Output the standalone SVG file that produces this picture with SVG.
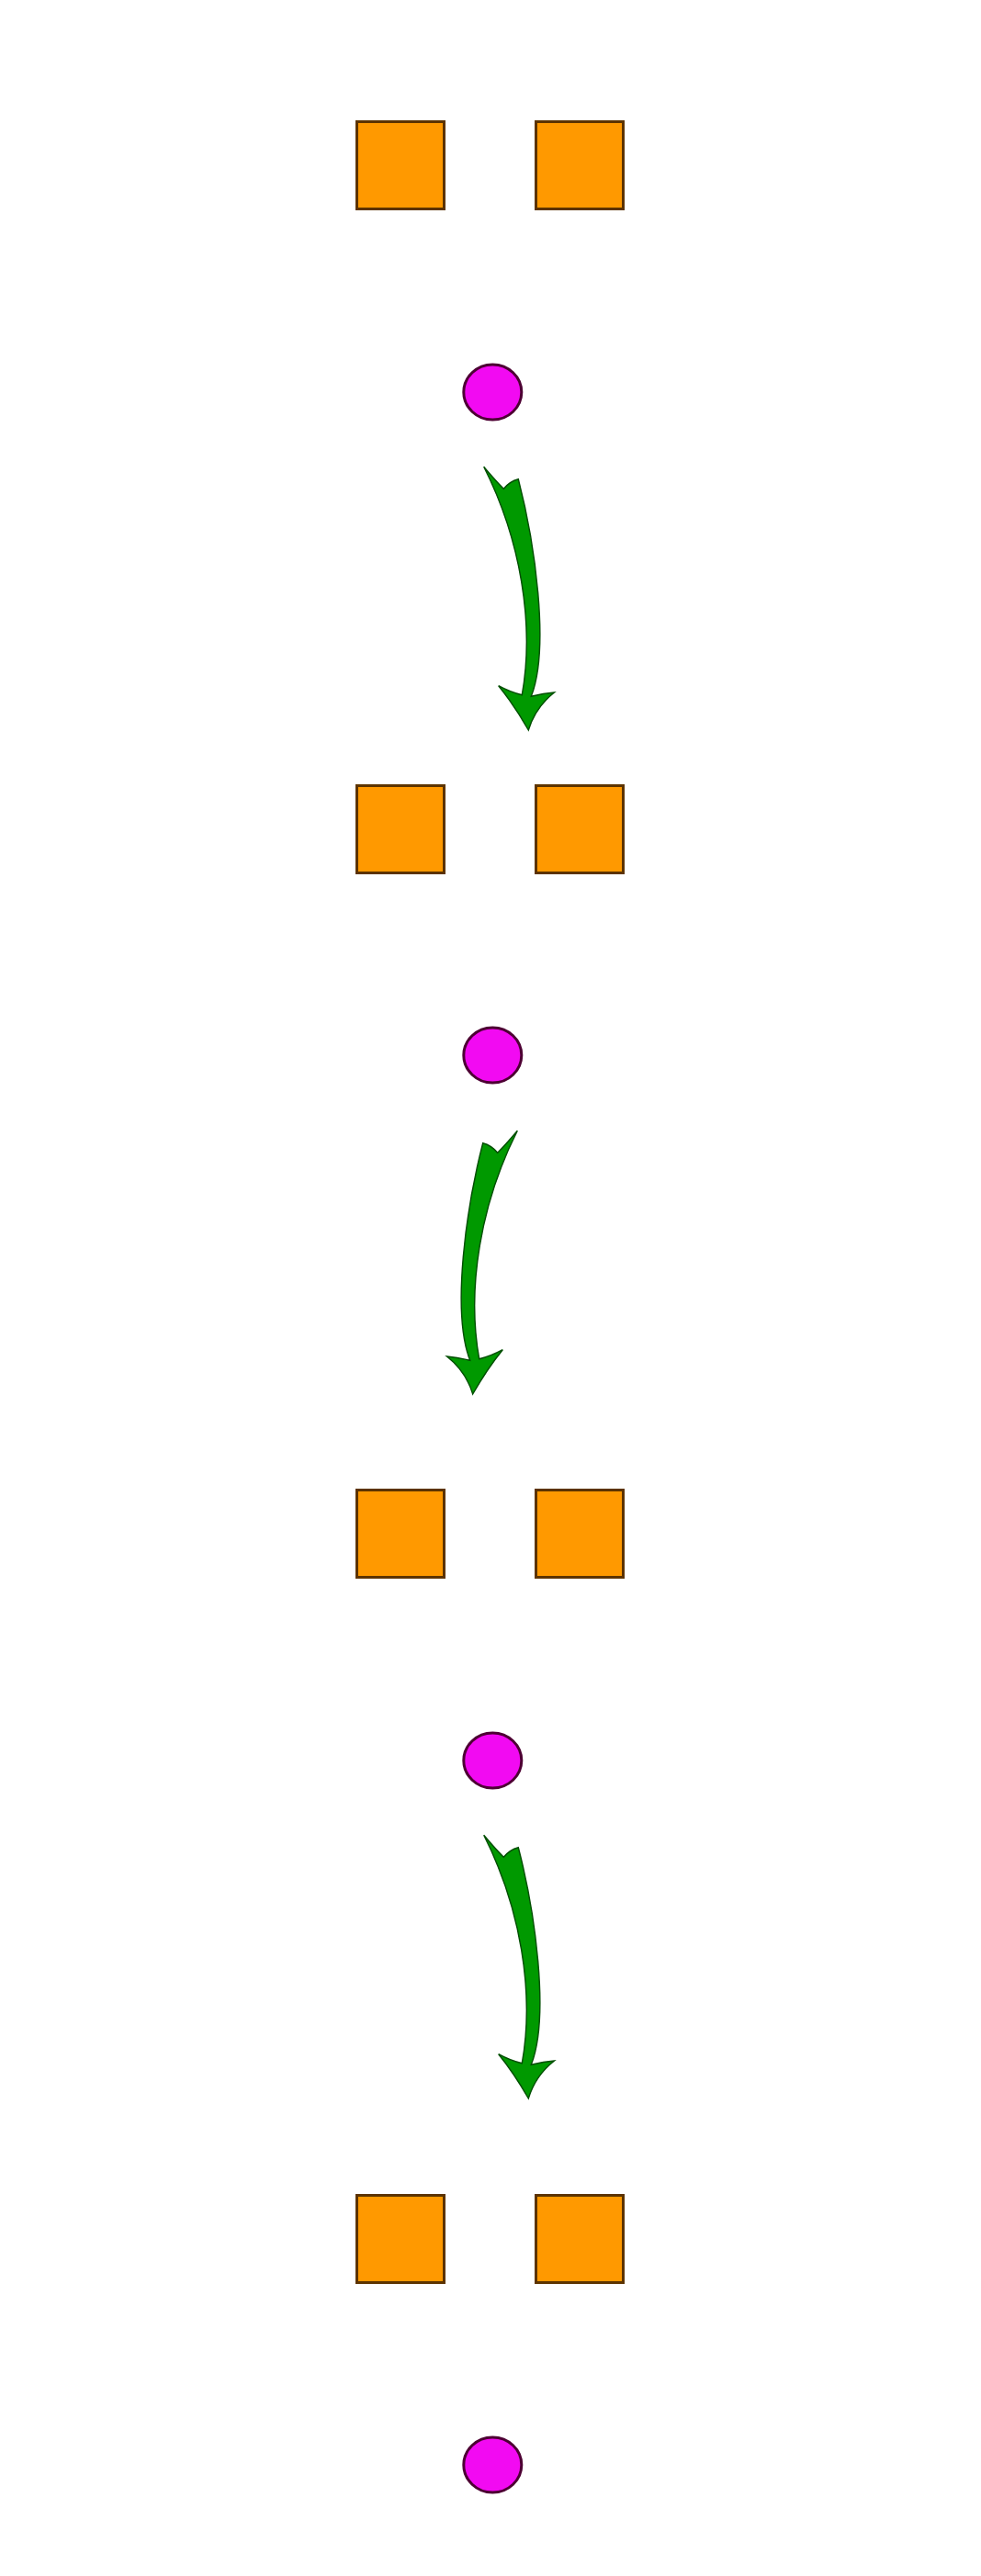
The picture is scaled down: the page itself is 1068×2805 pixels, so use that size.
<svg xmlns="http://www.w3.org/2000/svg" width="1068" height="2805" viewBox="0 0 1068 2805">
<style>
.sq{fill:#ff9900;stroke:#5c3300;stroke-width:3}
.ci{fill:#f20af2;stroke:#4d0033;stroke-width:3}
.ar{fill:#009900;stroke:#004d00;stroke-width:1.4;stroke-linejoin:miter}
</style>
<defs>
<path id="arrow" class="ar" d="M526.7 508.3 Q540 524 548.3 532.3 Q555 524 564.3 521.7 C582 590 599 705 578.3 758.3 Q592 755 603.5 754 Q583 770 575.3 795 Q560 768 542.7 746.7 Q556 754 568.3 756.7 C582 680 567 588 526.7 508.3 Z"/>
</defs>
<rect width="1068" height="2805" fill="#ffffff"/>
<g id="connectors">
<use href="#arrow"/>
<use href="#arrow" transform="translate(1090 723) scale(-1 1)"/>
<use href="#arrow" transform="translate(0 1490)"/>
</g>
<g id="sq1a"><rect class="sq" x="388.5" y="132.5" width="95" height="95"/></g>
<g id="sq1b"><rect class="sq" x="583.5" y="132.5" width="95" height="95"/></g>
<g id="c1"><ellipse class="ci" cx="536.3" cy="427" rx="31.5" ry="30"/></g>
<g id="sq2a"><rect class="sq" x="388.5" y="855.5" width="95" height="95"/></g>
<g id="sq2b"><rect class="sq" x="583.5" y="855.5" width="95" height="95"/></g>
<g id="c2"><ellipse class="ci" cx="536.3" cy="1149" rx="31.5" ry="30"/></g>
<g id="sq3a"><rect class="sq" x="388.5" y="1622.5" width="95" height="95"/></g>
<g id="sq3b"><rect class="sq" x="583.5" y="1622.5" width="95" height="95"/></g>
<g id="c3"><ellipse class="ci" cx="536.3" cy="1917" rx="31.5" ry="30"/></g>
<g id="sq4a"><rect class="sq" x="388.5" y="2390.5" width="95" height="95"/></g>
<g id="sq4b"><rect class="sq" x="583.5" y="2390.5" width="95" height="95"/></g>
<g id="c4"><ellipse class="ci" cx="536.3" cy="2684" rx="31.5" ry="30"/></g>
</svg>
